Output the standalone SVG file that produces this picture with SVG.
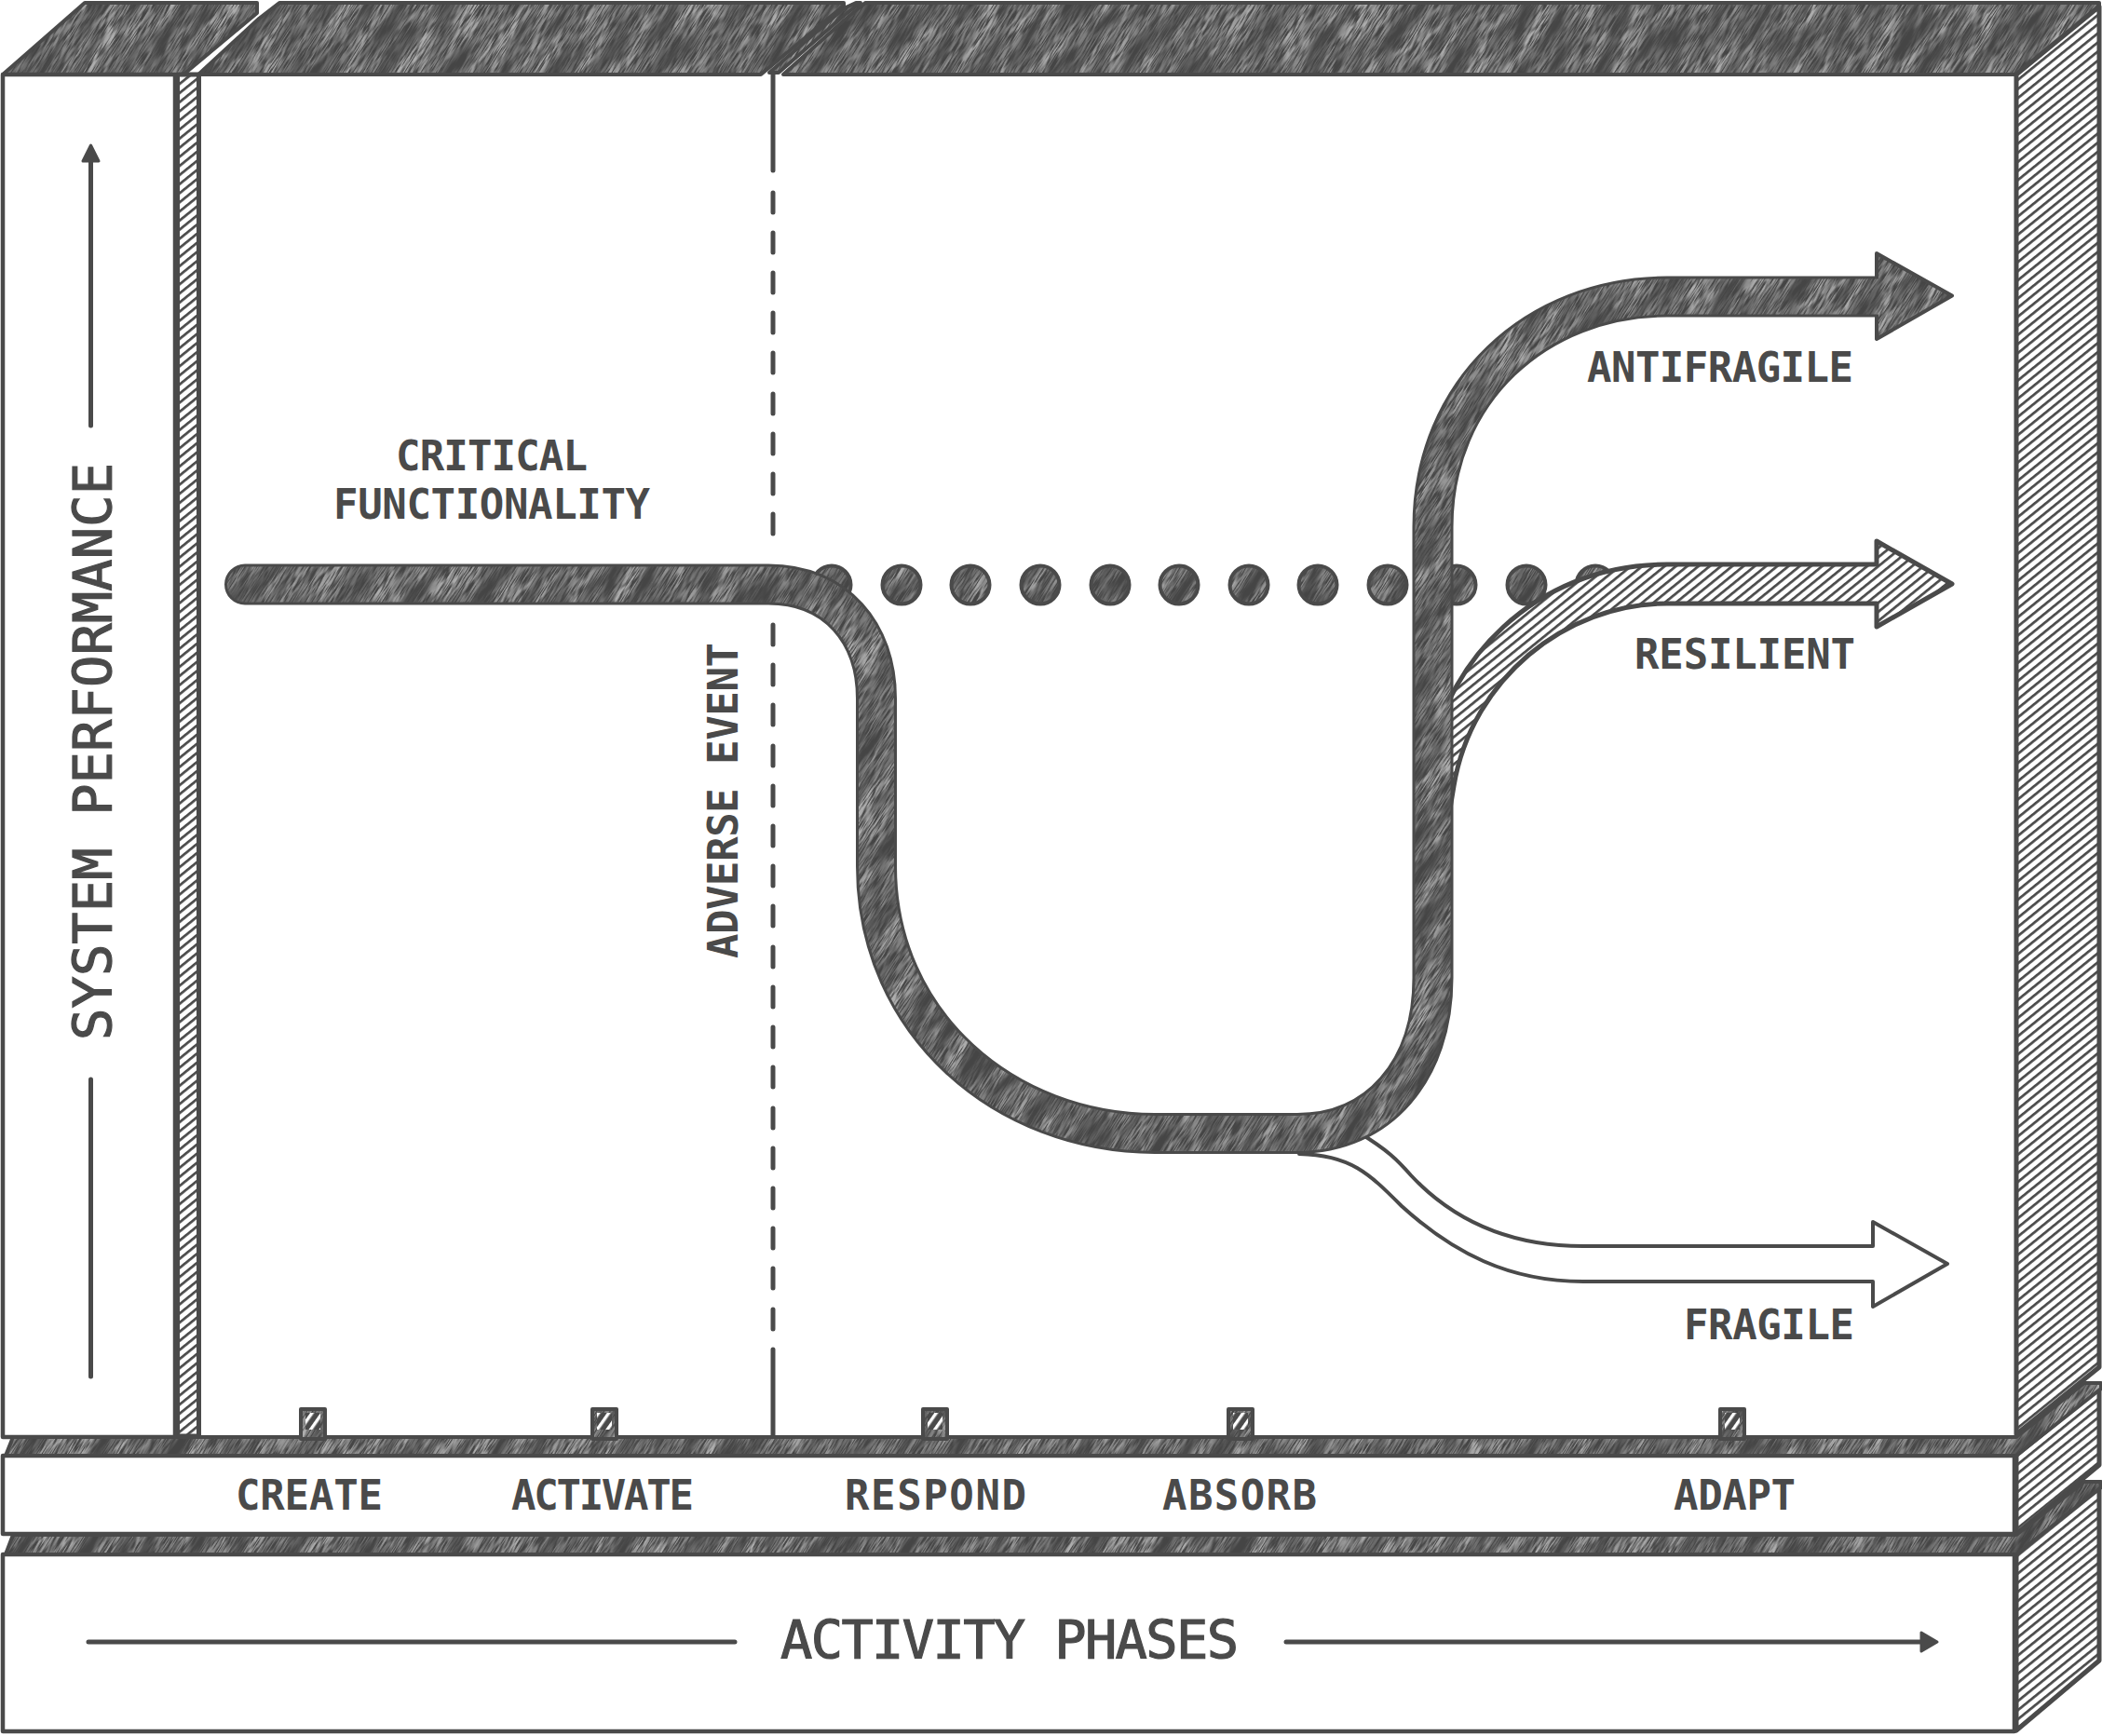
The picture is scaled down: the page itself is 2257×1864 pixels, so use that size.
<svg xmlns="http://www.w3.org/2000/svg" xmlns:xlink="http://www.w3.org/1999/xlink" width="2257" height="1864" viewBox="0 0 2257 1864">
<style>
text{fill:#4a4a4a;font-family:"DejaVu Sans Mono","Liberation Mono",monospace}
.s{font-size:44px;font-weight:700}
.b{font-size:57px;font-weight:400;stroke:#4a4a4a;stroke-width:1.2px}
.tex{fill:url(#pencil);stroke:#4a4a4a;stroke-width:4;stroke-linejoin:round}
.hat{fill:url(#hatch);stroke:#4a4a4a;stroke-width:5;stroke-linejoin:round}
.pan{fill:#fff;stroke:#4a4a4a;stroke-width:4.5;stroke-linejoin:round}
.ln{fill:none;stroke:#4a4a4a;stroke-width:5;stroke-linecap:round}
.ah{fill:#4a4a4a;stroke:#4a4a4a;stroke-width:3;stroke-linejoin:round}
.edge{fill:none;stroke:#4a4a4a}
.core{fill:none;stroke:url(#pencil)}
</style>
<defs>
<filter id="pf" x="0" y="0" width="100%" height="100%" color-interpolation-filters="sRGB">
<feTurbulence type="fractalNoise" baseFrequency="0.014 0.06" numOctaves="3" seed="7" stitchTiles="stitch" result="a"/>
<feColorMatrix in="a" type="matrix" values="0 0 0 0 0.5 0 0 0 0 0.5 0 0 0 0 0.5 2 0 0 0 -0.45" result="streak"/>
<feTurbulence type="fractalNoise" baseFrequency="0.05 0.8" numOctaves="2" seed="3" stitchTiles="stitch" result="b"/>
<feColorMatrix in="b" type="matrix" values="0 0 0 0 0.68 0 0 0 0 0.68 0 0 0 0 0.68 4 0 0 0 -1.4" result="fine"/>
<feComposite in="fine" in2="streak" operator="in" result="mix"/>
<feFlood flood-color="#454545" result="base"/>
<feMerge><feMergeNode in="base"/><feMergeNode in="mix"/></feMerge>
</filter>
<pattern id="pencil" patternUnits="userSpaceOnUse" width="512" height="512" patternTransform="rotate(-58)">
<rect width="512" height="512" filter="url(#pf)"/>
</pattern>
<pattern id="hatch" patternUnits="userSpaceOnUse" width="20" height="7.6" patternTransform="rotate(-39)">
<rect width="20" height="7.6" fill="#fff"/><rect width="20" height="2.7" fill="#4a4a4a"/>
</pattern>
<pattern id="hatchT" patternUnits="userSpaceOnUse" width="20" height="9" patternTransform="rotate(-55)">
<rect width="20" height="9" fill="#4a4a4a"/><rect width="20" height="3.4" fill="#fff"/>
</pattern>
<path id="mainL" d="M263 627.5H825C898 627.5 941 680 941 750V930C941 1100 1080 1217 1240 1217H1393C1480 1217 1538.500 1150 1538.500 1050V566C1538.500 420 1650 318.500 1790 318.500H2025"/>
<polygon id="antiHead" points="2015,272 2096,317.500 2015,364"/>
</defs>
<rect width="2257" height="1864" fill="#fff"/>

<g id="frame-top">
<polygon class="tex" points="3,80 91,3 276,3 276,14 197,80"/>
<polygon class="tex" points="213,80 278,20 300,3 906,3 906,6 817,80"/>
<polygon class="tex" points="826,78 906,9 919,3 924,3 906,17 836,78" stroke-width="1"/>
<polygon class="tex" points="841,80 906,22 929,3 2254,3 2254,8 2165,80"/>
</g>
<g id="frame-right">
<polygon class="hat" points="2165,80 2254,7 2254,1468 2165,1540"/>
<polygon class="hat" points="2165,1562 2254,1490 2254,1573 2165,1647"/>
<polygon class="hat" points="2165,1669 2254,1594 2254,1783 2165,1858"/>
</g>
<g id="strip-left">
<rect class="hat" x="190.500" y="80" width="23" height="1462"/>
</g>
<g id="panel-performance">
<rect class="pan" x="3" y="80" width="185" height="1463"/>
<path class="ln" d="M97.500 173V457M97.500 1159V1478"/>
<polygon class="ah" points="97.500,156 106,173 89,173"/>
<text class="b" transform="translate(120 1117) rotate(-90)" x="0" y="0" textLength="620" lengthAdjust="spacing">SYSTEM PERFORMANCE</text>
</g>
<g id="panel-create">
<rect class="pan" x="3" y="1563" width="2160" height="84"/>
</g>
<g id="panel-phases">
<rect class="pan" x="3" y="1669" width="2160" height="190"/>
<path class="ln" d="M95 1763H789M1381 1763H2063"/>
<polygon class="ah" points="2080,1763 2063,1753 2063,1773"/>
<text class="b" x="838" y="1781" textLength="492" lengthAdjust="spacing">ACTIVITY PHASES</text>
</g>
<g id="bands">
<polygon class="tex" points="6,1563 14,1543 2165,1543 2238,1485 2256,1485 2256,1491 2165,1563"/>
<polygon class="tex" points="6,1669 14,1648 2165,1648 2238,1591 2256,1591 2256,1597 2165,1669"/>
</g>
<g id="tick-create"><rect class="tex" x="323" y="1513" width="26" height="32"/><rect x="328" y="1517" width="16" height="18" fill="url(#hatchT)"/></g>
<g id="tick-activate"><rect class="tex" x="636" y="1513" width="26" height="32"/><rect x="641" y="1517" width="16" height="18" fill="url(#hatchT)"/></g>
<g id="tick-respond"><rect class="tex" x="991" y="1513" width="26" height="32"/><rect x="996" y="1517" width="16" height="18" fill="url(#hatchT)"/></g>
<g id="tick-absorb"><rect class="tex" x="1319" y="1513" width="26" height="32"/><rect x="1324" y="1517" width="16" height="18" fill="url(#hatchT)"/></g>
<g id="tick-adapt"><rect class="tex" x="1847" y="1513" width="26" height="32"/><rect x="1852" y="1517" width="16" height="18" fill="url(#hatchT)"/></g>

<g id="labels">
<text id="label-create" class="s" x="253" y="1621" textLength="158" lengthAdjust="spacing">CREATE</text>
<text id="label-activate" class="s" x="549" y="1621" textLength="196" lengthAdjust="spacing">ACTIVATE</text>
<text id="label-respond" class="s" x="907" y="1621" textLength="195" lengthAdjust="spacing">RESPOND</text>
<text id="label-absorb" class="s" x="1248" y="1621" textLength="166" lengthAdjust="spacing">ABSORB</text>
<text id="label-adapt" class="s" x="1797" y="1621" textLength="131" lengthAdjust="spacing">ADAPT</text>
<text id="label-critical" class="s" x="425" y="505" textLength="206" lengthAdjust="spacing">CRITICAL</text>
<text id="label-functionality" class="s" x="358" y="557" textLength="340" lengthAdjust="spacing">FUNCTIONALITY</text>
<text id="label-adverse" class="s" transform="translate(792 1029) rotate(-90)" x="0" y="0" textLength="339" lengthAdjust="spacing">ADVERSE EVENT</text>
<text id="label-antifragile" class="s" x="1704" y="410" textLength="286" lengthAdjust="spacing">ANTIFRAGILE</text>
<text id="label-resilient" class="s" x="1755" y="718" textLength="237" lengthAdjust="spacing">RESILIENT</text>
<text id="label-fragile" class="s" x="1808" y="1438" textLength="183" lengthAdjust="spacing">FRAGILE</text>
</g>

<g id="connectors">
<path id="adverse-line" class="ln" d="M830 80V183M830 207v21M830 250v21M830 293v21M830 336v21M830 379v21M830 423v21M830 466v21M830 509v21M830 552v21M830 671v21M830 714v21M830 757v21M830 801v21M830 844v21M830 887v21M830 930v21M830 973v21M830 1017v21M830 1060v21M830 1103v21M830 1146v21M830 1190v21M830 1233v21M830 1276v21M830 1319v21M830 1362v21M830 1406v21M830 1449V1541"/>
<g id="baseline-dots">
<circle class="tex" cx="893" cy="628" r="20.500"/><circle class="tex" cx="968" cy="628" r="20.500"/><circle class="tex" cx="1042" cy="628" r="20.500"/><circle class="tex" cx="1117" cy="628" r="20.500"/><circle class="tex" cx="1192" cy="628" r="20.500"/><circle class="tex" cx="1266" cy="628" r="20.500"/><circle class="tex" cx="1341" cy="628" r="20.500"/><circle class="tex" cx="1415" cy="628" r="20.500"/><circle class="tex" cx="1490" cy="628" r="20.500"/><circle class="tex" cx="1564" cy="628" r="20.500"/><circle class="tex" cx="1639" cy="628" r="20.500"/><circle class="tex" cx="1713" cy="628" r="20.500"/>
</g>
<path id="fragile" d="M1459 1216C1490 1235 1500 1245 1515 1262C1560 1310 1620 1338 1700 1338H2011V1312L2091 1357L2011 1403V1376H1700C1620 1376 1560 1345 1505 1295C1470 1260 1450 1240 1395 1239Z" fill="#fff" stroke="#4a4a4a" stroke-width="4" stroke-linejoin="round"/>
<path id="resilient" class="hat" d="M1540 800C1555 720 1640 606 1790 606H2015V581L2096 627L2015 673V648H1790C1680 648 1580 730 1561 844L1555 880H1540Z"/>
<g id="antifragile">
<use href="#mainL" class="edge" stroke-width="44" stroke-linecap="round"/>
<use href="#antiHead" class="tex"/>
<use href="#mainL" class="core" stroke-width="38" stroke-linecap="round"/>
</g>
</g>
</svg>
